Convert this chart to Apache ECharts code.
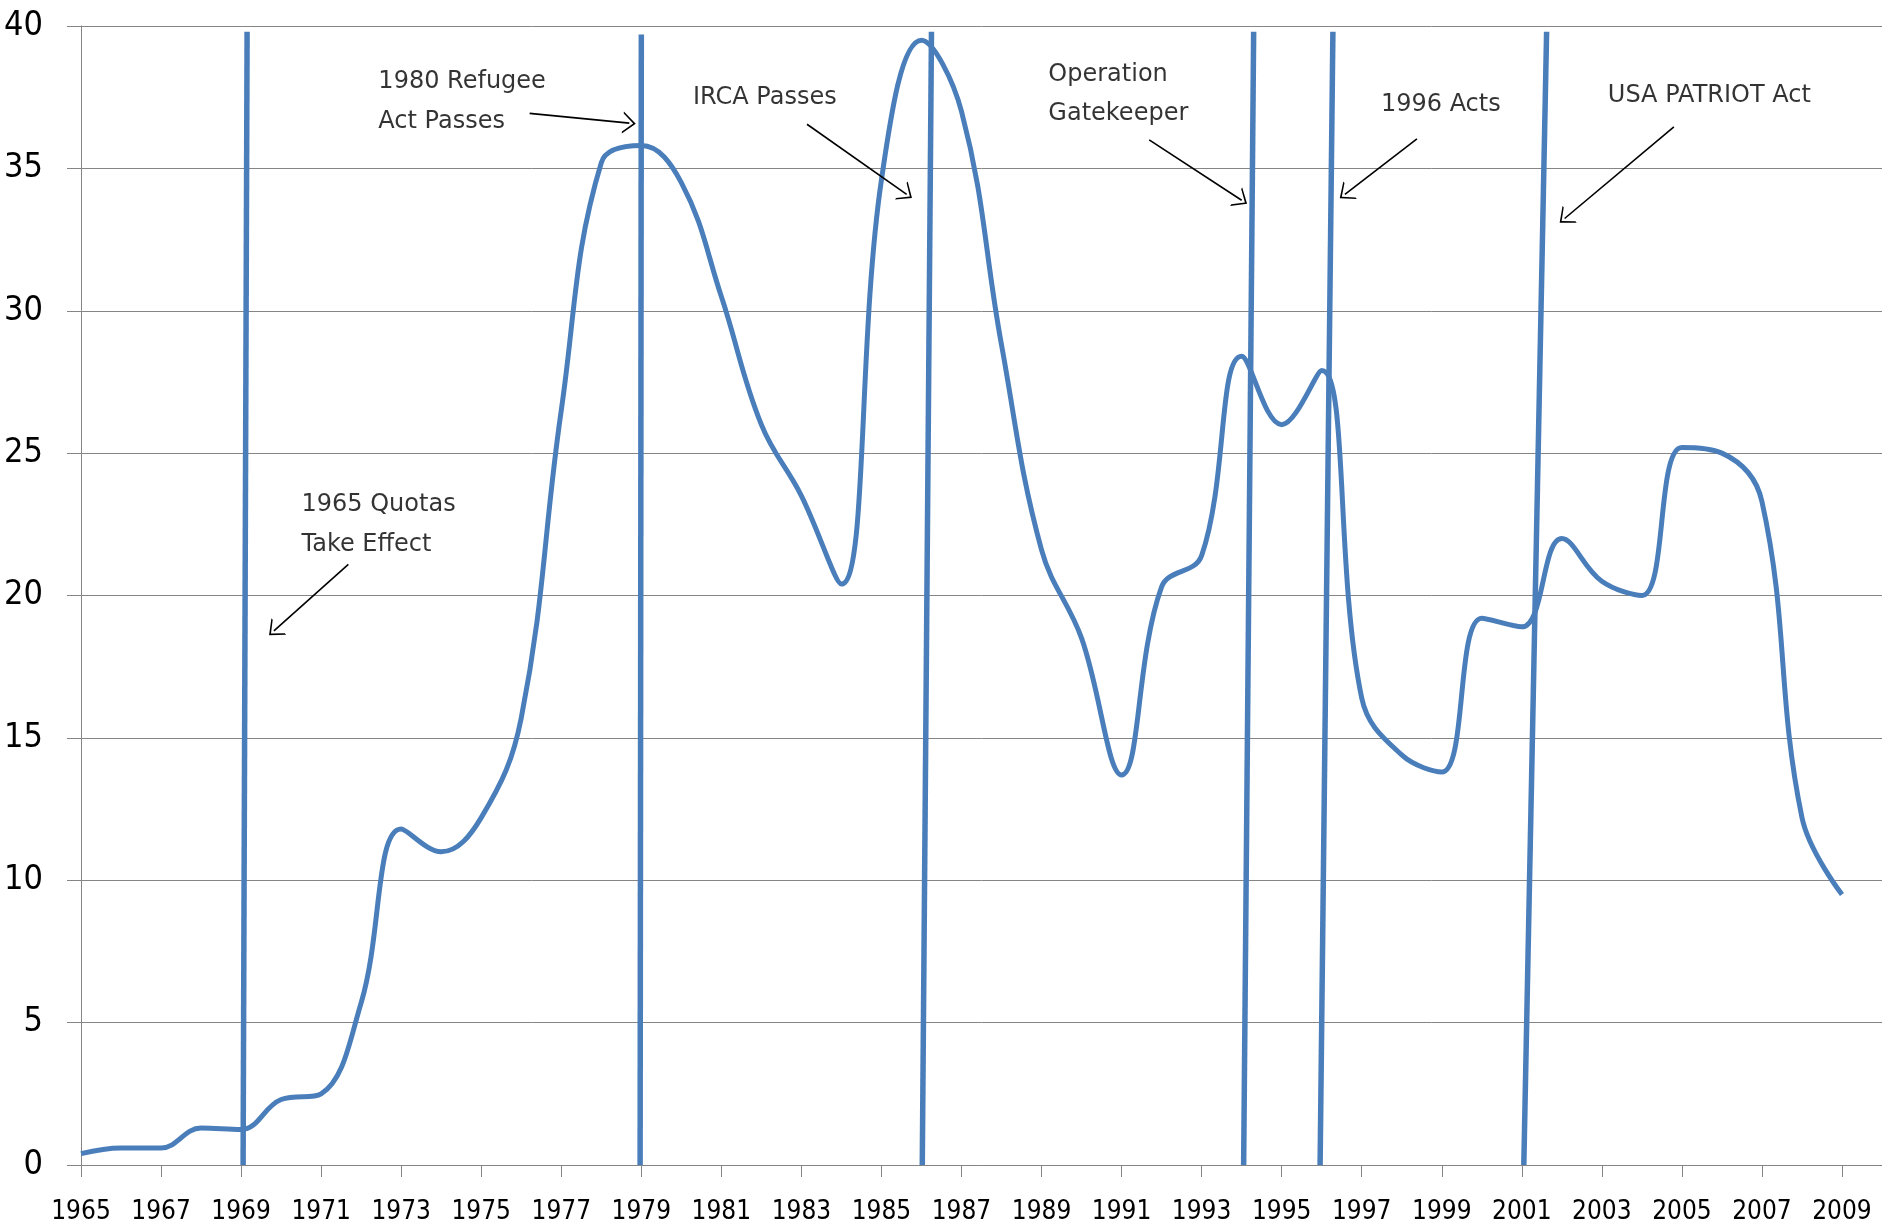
<!DOCTYPE html>
<html lang="en">
<head>
  <meta charset="UTF-8">
  <title>Immigration and policy events, 1965-2009</title>
  <style>
    html, body { margin: 0; padding: 0; background: #fff; }
    #chart { width: 1882px; height: 1232px; }
  </style>
  <script src="https://cdn.jsdelivr.net/npm/echarts@6/dist/echarts.min.js"></script>
</head>
<body>
  <div id="chart"></div>

  <script>
    // Data
    const years = [1965, 1966, 1967, 1968, 1969, 1970, 1971, 1972, 1973, 1974,
                   1975, 1976, 1977, 1978, 1979, 1980, 1981, 1982, 1983, 1984,
                   1985, 1986, 1987, 1988, 1989, 1990, 1991, 1992, 1993, 1994,
                   1995, 1996, 1997, 1998, 1999, 2000, 2001, 2002, 2003, 2004,
                   2005, 2006, 2007, 2008, 2009];
    const values = [0.4, 0.6, 0.6, 1.3, 1.25, 2.3, 2.5, 5.7, 11.8, 11.0,
                    12.2, 15.7, 26.5, 35.2, 35.8, 34.5, 30.5, 26.0, 23.5, 20.4,
                    34.6, 39.5, 37.0, 28.8, 21.6, 18.5, 13.7, 20.3, 21.4, 28.4,
                    26.0, 27.9, 16.4, 14.4, 13.8, 19.2, 18.9, 22.0, 20.5, 20.0,
                    25.2, 25.0, 23.3, 12.2, 9.5];
    const tickYears = [1965, 1967, 1969, 1971, 1973, 1975, 1977, 1979, 1981, 1983,
                       1985, 1987, 1989, 1991, 1993, 1995, 1997, 1999, 2001, 2003,
                       2005, 2007, 2009];

    // hand drawn event lines (slightly slanted): year at the bottom and at the top
    const eventBottom = [1969.05, 1978.97, 1986.02, 1994.05, 1995.96, 2001.05];
    const eventTop = [1969.15, 1979.0, 1986.25, 1994.3, 1996.28, 2001.62];
    const eventTopValue = [39.8, 39.7, 39.8, 39.8, 39.8, 39.8];

    // annotation text lines, anchored at their left edge
    const noteText = ['1965 Quotas', 'Take Effect', '1980 Refugee', 'Act Passes',
                      'IRCA Passes', 'Operation', 'Gatekeeper', '1996 Acts',
                      'USA PATRIOT Act'];
    const noteAt = [[1970.51, 23.42], [1970.51, 22.02], [1972.43, 38.28], [1972.43, 36.89],
                    [1980.29, 37.73], [1989.17, 38.54], [1989.17, 37.18], [1997.48, 37.48],
                    [2003.15, 37.78]];
    const arrowFrom = [[1971.68, 21.09], [1976.21, 36.93], [1983.14, 36.55],
                       [1991.69, 36.0], [1998.38, 36.04], [2004.8, 36.46]];
    const arrowTo = [[1969.82, 18.76], [1978.70, 36.59], [1985.63, 34.09],
                     [1994.0, 33.88], [1996.58, 34.09], [2002.07, 33.24]];

    const BASE = 1965;
    const BLUE = '#4a7ebb';
    const GREY = '#858585';
    const AXIS_FONT = "'DejaVu Sans Condensed', 'DejaVu Sans', sans-serif";

    const shift = p => [p[0] - BASE, p[1]];

    let chart = echarts.init(document.getElementById('chart'));

    let eventSeries = eventBottom.map((b, i) => ({
      type: 'line',
      data: [[b - BASE, 0], [eventTop[i] - BASE, eventTopValue[i]]],
      showSymbol: false,
      symbol: 'none',
      lineStyle: { color: BLUE, width: 5.5 },
      silent: true,
      z: 3
    }));

    let option = {
      animation: false,
      backgroundColor: '#fff',
      grid: { left: 81, right: 0, top: 26, bottom: 67 },
      xAxis: {
        type: 'value',
        min: 0,
        max: 45,
        axisLine: { show: true, onZero: false, lineStyle: { color: GREY, width: 1 } },
        axisTick: {
          show: true, length: 12,
          customValues: tickYears.map(y => y - BASE),
          lineStyle: { color: GREY }
        },
        axisLabel: {
          customValues: tickYears.map(y => y - BASE),
          formatter: v => String(v + BASE),
          color: '#000',
          fontSize: 26,
          fontFamily: AXIS_FONT,
          margin: 34
        },
        splitLine: { show: false }
      },
      yAxis: {
        type: 'value',
        min: 0,
        max: 40,
        interval: 5,
        axisLine: { show: true, lineStyle: { color: GREY, width: 1 } },
        axisTick: { show: true, length: 14, lineStyle: { color: GREY } },
        axisLabel: {
          color: '#000',
          fontSize: 34,
          fontFamily: AXIS_FONT,
          margin: 38
        },
        splitLine: { lineStyle: { color: GREY, width: 1 } }
      },
      series: [
        {
          type: 'line',
          data: years.map((y, i) => [y - BASE, values[i]]),
          smooth: 0.4,
          showSymbol: false,
          symbol: 'none',
          lineStyle: { color: BLUE, width: 5 },
          silent: true,
          z: 4
        },
        ...eventSeries,
        {
          type: 'scatter',
          data: noteText.map((t, i) => ({ name: t, value: shift(noteAt[i]) })),
          symbolSize: 0,
          silent: true,
          label: {
            show: true,
            position: 'right',
            distance: 0,
            offset: [0, 7],
            formatter: p => p.name,
            color: '#000',
            fontSize: 24,
            fontFamily: "'DejaVu Sans', sans-serif"
          },
          markLine: {
            silent: true,
            // open arrow head, tip at the top of the path
            symbol: ['none', 'path://M7,0 L14,8 L12.8,8 L7,1.6 L1.2,8 L0,8 Z'],
            symbolSize: [22, 13],
            label: { show: false },
            lineStyle: { color: '#000', width: 1.6, type: 'solid' },
            data: arrowFrom.map((a, i) => [
              { coord: shift(a) },
              { coord: shift(arrowTo[i]) }
            ])
          },
          z: 5
        }
      ]
    };
    chart.setOption(option);
  </script>
</body>
</html>
